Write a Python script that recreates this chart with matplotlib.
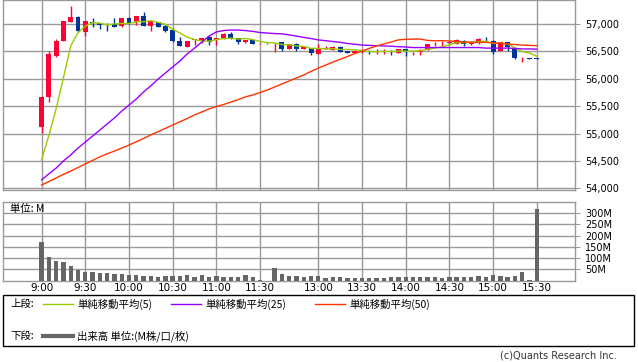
import numpy as np
import matplotlib.pyplot as plt
from matplotlib.patches import Rectangle

JP = ['Noto Sans CJK JP', 'DejaVu Sans']

# ── 5-minute bars (index based, lunch break compressed) ──
opens = [55125, 55675, 56415, 56690, 57035, 57135, 56860, 57040, 57010, 56995,
         56995, 56965, 57115, 57030, 57145, 56970, 57030, 56970, 56890, 56690,
         56585, 56710, 56690, 56755, 56710, 56740, 56810, 56740, 56665, 56705,
         56645, 56650, 56630, 56665, 56545, 56635, 56540, 56555, 56450, 56545,
         56525, 56585, 56505, 56475, 56490, 56500, 56490, 56490, 56490, 56475,
         56545, 56480, 56485, 56525, 56630, 56645, 56655, 56635, 56695, 56630,
         56645, 56710, 56695, 56515, 56665, 56540, 56360, 56375, 56375]
highs = [55680, 56505, 56725, 57060, 57330, 57150, 57060, 57105, 57015, 57025,
         57105, 57110, 57120, 57150, 57215, 57060, 57040, 56975, 56920, 56755,
         56695, 56725, 56745, 56785, 56745, 56835, 56850, 56745, 56715, 56710,
         56655, 56650, 56645, 56675, 56640, 56660, 56590, 56560, 56635, 56600,
         56590, 56600, 56510, 56520, 56545, 56520, 56540, 56540, 56525, 56550,
         56550, 56495, 56540, 56640, 56665, 56695, 56670, 56725, 56710, 56665,
         56740, 56755, 56705, 56675, 56670, 56545, 56405, 56375, 56375]
lows = [55015, 55580, 56405, 56685, 57030, 56860, 56785, 56950, 56910, 56880,
        56945, 56950, 57000, 56980, 56965, 56880, 56940, 56860, 56680, 56595,
        56580, 56615, 56645, 56615, 56620, 56735, 56735, 56635, 56660, 56635,
        56640, 56640, 56495, 56515, 56540, 56505, 56535, 56435, 56445, 56540,
        56520, 56490, 56470, 56470, 56470, 56460, 56450, 56450, 56435, 56470,
        56420, 56435, 56435, 56520, 56605, 56605, 56615, 56630, 56600, 56625,
        56640, 56675, 56445, 56510, 56515, 56370, 56315, 56365, 56355]
closes = [55675, 56450, 56690, 57055, 57130, 56870, 57055, 57025, 56990, 56985,
          56950, 57105, 57025, 57140, 56970, 57055, 56950, 56870, 56690, 56600,
          56690, 56720, 56740, 56675, 56740, 56810, 56740, 56665, 56710, 56640,
          56650, 56645, 56640, 56540, 56635, 56540, 56585, 56465, 56555, 56570,
          56585, 56495, 56475, 56515, 56495, 56495, 56495, 56495, 56485, 56545,
          56505, 56485, 56525, 56635, 56640, 56650, 56660, 56710, 56635, 56660,
          56725, 56705, 56495, 56665, 56585, 56375, 56365, 56370, 56355]

ma5 = [54520, 54965, 55455, 56020, 56600, 56840, 56960, 57025, 57015, 56985,
       57000, 57010, 57010, 57040, 57040, 57060, 57030, 56995, 56905, 56835,
       56760, 56715, 56690, 56685, 56715, 56735, 56740, 56725, 56735, 56715,
       56680, 56660, 56655, 56625, 56620, 56600, 56590, 56555, 56555, 56545,
       56550, 56535, 56535, 56530, 56515, 56495, 56495, 56500, 56495, 56505,
       56505, 56505, 56510, 56540, 56560, 56585, 56620, 56660, 56660, 56665,
       56680, 56685, 56645, 56650, 56635, 56565, 56495, 56470, 56410]
ma25 = [54155, 54265, 54370, 54500, 54610, 54735, 54845, 54955, 55065, 55175,
        55285, 55410, 55520, 55630, 55760, 55870, 55995, 56105, 56215, 56325,
        56455, 56560, 56670, 56780, 56855, 56880, 56890, 56890, 56880, 56865,
        56845, 56835, 56825, 56820, 56800, 56780, 56755, 56735, 56710, 56695,
        56680, 56665, 56645, 56630, 56615, 56610, 56605, 56600, 56595, 56585,
        56580, 56570, 56570, 56570, 56570, 56570, 56570, 56570, 56570, 56570,
        56570, 56560, 56560, 56560, 56560, 56555, 56545, 56545, 56540]
ma50 = [54060, 54125, 54190, 54255, 54315, 54380, 54445, 54510, 54575, 54630,
        54680, 54735, 54790, 54850, 54910, 54975, 55035, 55095, 55155, 55215,
        55275, 55340, 55395, 55450, 55495, 55530, 55575, 55620, 55670, 55705,
        55750, 55795, 55850, 55905, 55960, 56015, 56070, 56135, 56195, 56250,
        56305, 56355, 56405, 56460, 56505, 56555, 56600, 56635, 56670, 56710,
        56720, 56725, 56725, 56700, 56695, 56695, 56690, 56680, 56670, 56670,
        56665, 56665, 56655, 56645, 56635, 56625, 56615, 56610, 56605]

# volume, millions
volume = [172, 103, 89, 81, 64, 49, 40, 36, 34, 33,
          28, 28, 24, 24, 21, 21, 18, 20, 20, 20,
          23, 18, 23, 18, 20, 18, 18, 18, 24, 17,
          2, 0, 54, 28, 21, 20, 16, 20, 20, 11,
          15, 15, 11, 11, 11, 11, 11, 13, 14, 14,
          15, 15, 15, 15, 15, 11, 15, 15, 15, 15,
          20, 15, 27, 20, 15, 20, 36, 1, 316]

tick_idx = [0, 6, 12, 18, 24, 30, 38, 44, 50, 56, 62, 68]
tick_labels = ['9:00', '9:30', '10:00', '10:30', '11:00', '11:30',
               '13:00', '13:30', '14:00', '14:30', '15:00', '15:30']
price_ticks = [54000, 54500, 55000, 55500, 56000, 56500, 57000]
vol_ticks = [50, 100, 150, 200, 250, 300]

UP = '#ff0033'
DOWN = '#003399'
GRID = '#999999'

fig = plt.figure(figsize=(6.38, 3.62), dpi=100)
fig.patch.set_facecolor('white')

W, H = 638.0, 362.0
L, R = 3 / W, 572 / W
ax = fig.add_axes([L, 1 - 190 / H, R, 190 / H])
axv = fig.add_axes([L, 1 - 280.6 / H, R, 78.9 / H])

x = np.arange(len(closes))
o, h, l, c = map(np.array, (opens, highs, lows, closes))
cols = np.where(c >= o, UP, DOWN)

for a in (ax, axv):
    a.set_xlim(-5.3, 73.25)
    a.set_xticks(tick_idx)
    a.grid(True, color=GRID, linewidth=1.0)
    a.set_axisbelow(True)
    for s in a.spines.values():
        s.set_color(GRID)
        s.set_linewidth(1.0)
    a.yaxis.tick_right()
    a.tick_params(axis='y', direction='out', length=3.5, width=0.8,
                  color=GRID, labelsize=7, pad=4)
    a.tick_params(axis='x', length=0)

# ── price panel ──
ax.set_ylim(53970, 57438)
ax.set_yticks(price_ticks)
ax.set_yticklabels([f'{p:,}' for p in price_ticks])
ax.set_xticklabels([])

ax.vlines(x, l, h, colors=cols, linewidth=1.0, zorder=3)
body = np.maximum(np.abs(c - o), 10)
ax.bar(x, body, bottom=np.minimum(o, c), width=0.68, color=cols,
       linewidth=0, zorder=4)

ax.plot(x, ma5, color='#99cc00', linewidth=1.0, zorder=5)
ax.plot(x, ma25, color='#9900ff', linewidth=1.0, zorder=5)
ax.plot(x, ma50, color='#ff3300', linewidth=1.0, zorder=5)

# ── volume panel ──
axv.set_ylim(0, 350)
axv.set_yticks(vol_ticks)
axv.set_yticklabels([f'{v}M' for v in vol_ticks])
axv.set_xticklabels(tick_labels)
axv.tick_params(axis='x', labelsize=7.5, pad=2)
axv.bar(x, volume, width=0.6, color='#666666', linewidth=0, zorder=3)
axv.text(0.012, 0.97, '単位: M', transform=axv.transAxes, fontsize=7.5,
         family=JP, ha='left', va='top')

# ── legend box ──
fig.patches.append(Rectangle((3 / W, 1 - 346 / H), 631 / W, 51 / H,
                             transform=fig.transFigure, fill=False,
                             edgecolor='black', linewidth=1.0))

def fx(px):
    return px / W

def fy(py):
    return 1 - py / H

y1, y2 = fy(304), fy(336)
fig.text(fx(10), y1, '上段:', fontsize=7.5, family=JP, va='center')
for x0, col, lab in [(43, '#99cc00', '単純移動平均(5)'),
                     (171, '#9900ff', '単純移動平均(25)'),
                     (315, '#ff3300', '単純移動平均(50)')]:
    fig.add_artist(plt.Line2D([fx(x0), fx(x0 + 30)], [y1, y1], color=col,
                              linewidth=1.0, transform=fig.transFigure))
    fig.text(fx(x0 + 34), y1, lab, fontsize=7.5, family=JP, va='center')

fig.text(fx(10), y2, '下段:', fontsize=7.5, family=JP, va='center')
fig.add_artist(plt.Line2D([fx(43), fx(73)], [y2, y2], color='#666666',
                          linewidth=3.0, transform=fig.transFigure))
fig.text(fx(77), y2, '出来高 単位:(M株/口/枚)', fontsize=7.5, family=JP,
         va='center')

fig.text(fx(617), fy(356), '(c)Quants Research Inc.', fontsize=7,
         ha='right', va='center', color='#333333')

fig.savefig('out.png', dpi=100)
